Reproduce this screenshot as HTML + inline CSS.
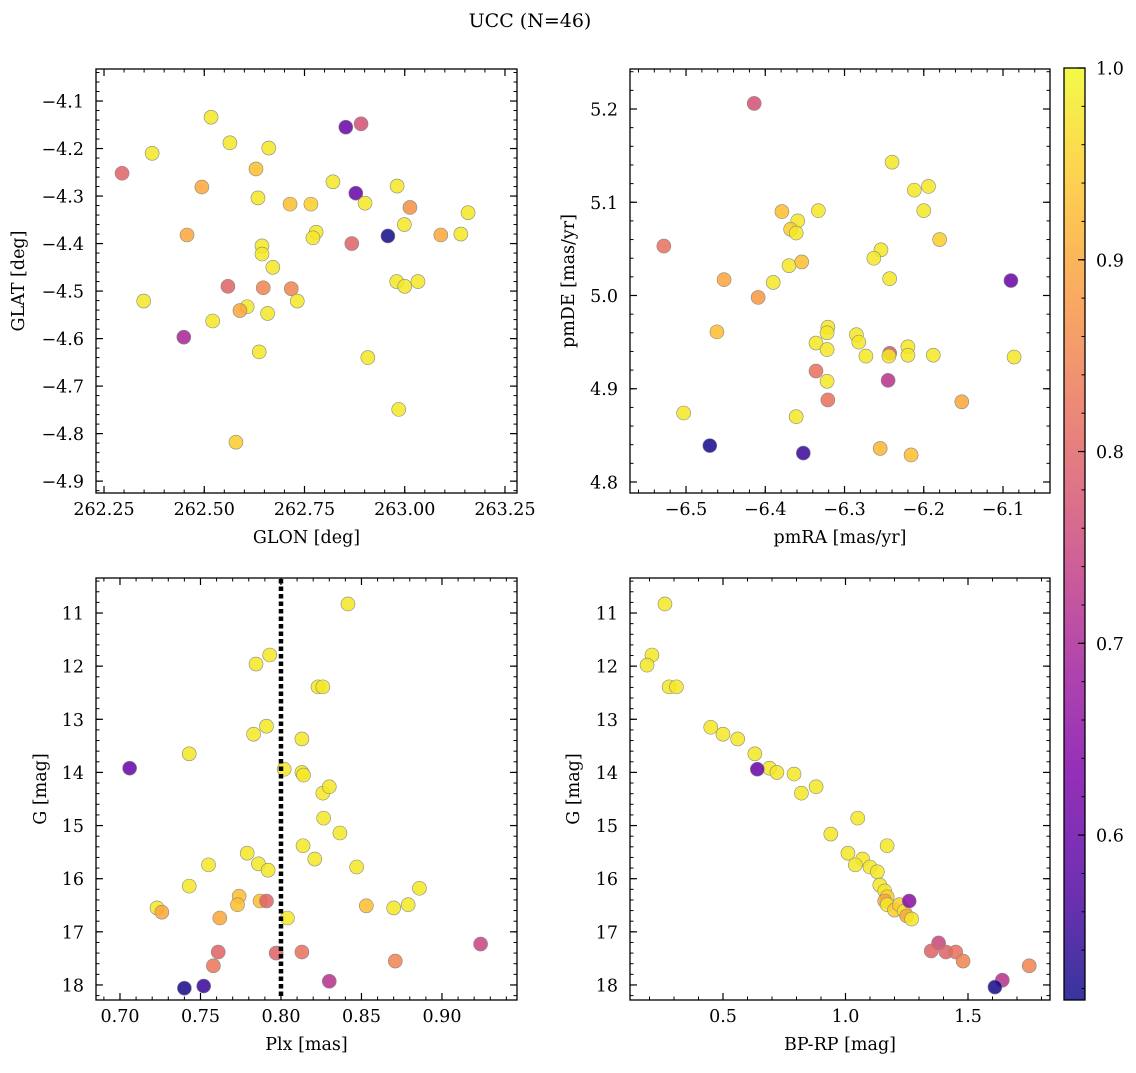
<!DOCTYPE html>
<html><head><meta charset="utf-8"><style>
body{margin:0;background:#fff;}
svg{font-family:"DejaVu Serif","Liberation Serif",serif;}
</style></head><body>
<svg id="fig" width="1136" height="1068" xmlns="http://www.w3.org/2000/svg">
<text x="530" y="27" text-anchor="middle" font-size="19">UCC (N=46)</text>
</svg>
<script>
// ---- data: panel 1 (GLON vs GLAT)
const glonTL=[262.517,262.37,262.295,262.564,262.661,262.629,262.494,262.634,262.853,262.891,262.821,262.878,262.714,262.766,262.779,262.771,262.901,262.981,262.999,263.013,262.958,263.09,263.14,263.158,262.457,262.644,262.644,262.671,262.868,262.98,263.0,263.033,262.559,262.647,262.717,262.349,262.607,262.589,262.658,262.732,262.521,262.449,262.637,262.908,262.985,262.579];
const glatTL=[-4.134,-4.21,-4.252,-4.188,-4.199,-4.243,-4.281,-4.304,-4.155,-4.148,-4.27,-4.294,-4.317,-4.317,-4.376,-4.388,-4.315,-4.279,-4.36,-4.324,-4.384,-4.382,-4.38,-4.335,-4.382,-4.405,-4.422,-4.45,-4.4,-4.48,-4.49,-4.48,-4.49,-4.493,-4.495,-4.521,-4.533,-4.541,-4.547,-4.521,-4.563,-4.597,-4.628,-4.64,-4.749,-4.818];
const probTL=[0.98,0.98,0.8,0.98,0.98,0.93,0.9,0.98,0.6,0.77,0.98,0.6,0.93,0.95,0.98,0.98,0.98,0.98,0.98,0.87,0.52,0.9,0.98,0.98,0.9,0.98,0.98,0.98,0.8,0.98,0.98,0.98,0.8,0.85,0.85,0.98,0.98,0.9,0.98,0.98,0.98,0.7,0.98,0.98,0.98,0.95];
// ---- panel 2 (pmRA vs pmDE)
const pmraTR=[-6.414,-6.240,-6.212,-6.194,-6.200,-6.379,-6.333,-6.359,-6.368,-6.361,-6.180,-6.528,-6.254,-6.263,-6.370,-6.354,-6.452,-6.390,-6.243,-6.090,-6.409,-6.321,-6.322,-6.285,-6.461,-6.282,-6.336,-6.220,-6.322,-6.243,-6.273,-6.244,-6.220,-6.188,-6.086,-6.336,-6.245,-6.322,-6.321,-6.152,-6.503,-6.361,-6.470,-6.255,-6.352,-6.216];
const pmdeTR=[5.206,5.143,5.113,5.117,5.091,5.090,5.091,5.080,5.071,5.067,5.060,5.053,5.049,5.040,5.032,5.036,5.017,5.014,5.018,5.016,4.998,4.966,4.960,4.958,4.961,4.950,4.949,4.945,4.942,4.938,4.935,4.935,4.936,4.936,4.934,4.919,4.909,4.908,4.888,4.886,4.874,4.870,4.839,4.836,4.831,4.829];
const probTR=[0.77,0.98,0.98,0.98,0.98,0.93,0.98,0.98,0.95,0.98,0.95,0.82,0.98,0.98,0.98,0.93,0.9,0.98,0.98,0.6,0.88,0.98,0.98,0.98,0.93,0.98,0.98,0.98,0.98,0.78,0.98,0.98,0.98,0.98,0.98,0.82,0.72,0.98,0.82,0.9,0.98,0.98,0.52,0.92,0.55,0.93];
// ---- panel 3 (Plx vs G)
const plxBL=[0.8416,0.7845,0.793,0.823,0.826,0.813,0.791,0.783,0.743,0.706,0.802,0.813,0.814,0.826,0.830,0.8265,0.8366,0.8137,0.821,0.779,0.755,0.786,0.792,0.847,0.743,0.774,0.773,0.886,0.787,0.791,0.853,0.879,0.870,0.723,0.726,0.762,0.804,0.761,0.797,0.813,0.924,0.758,0.871,0.830,0.740,0.752];
const gBL=[10.83,11.96,11.79,12.39,12.39,13.37,13.13,13.28,13.65,13.92,13.94,14.0,14.05,14.39,14.27,14.86,15.14,15.38,15.63,15.52,15.74,15.72,15.84,15.78,16.14,16.33,16.49,16.18,16.42,16.42,16.51,16.49,16.55,16.55,16.63,16.74,16.74,17.38,17.40,17.38,17.23,17.64,17.55,17.93,18.06,18.02];
const probBL=[0.98,0.98,0.98,0.98,0.98,0.98,0.98,0.98,0.98,0.6,0.98,0.98,0.98,0.98,0.98,0.98,0.98,0.98,0.98,0.98,0.98,0.98,0.98,0.98,0.98,0.93,0.93,0.98,0.93,0.8,0.93,0.98,0.98,0.98,0.9,0.9,0.98,0.8,0.8,0.82,0.75,0.83,0.85,0.72,0.52,0.55];
// ---- panel 4 (BP-RP vs G)
const bprpBR=[0.263,0.210,0.19,0.28,0.31,0.45,0.50,0.56,0.63,0.69,0.64,0.72,0.79,0.88,0.82,1.05,0.94,1.17,1.01,1.07,1.04,1.10,1.13,1.14,1.16,1.17,1.16,1.17,1.20,1.22,1.24,1.26,1.25,1.27,1.38,1.35,1.41,1.45,1.48,1.75,1.64,1.61];
const gBR=[10.83,11.79,11.98,12.39,12.39,13.15,13.28,13.37,13.65,13.92,13.94,14.0,14.03,14.27,14.39,14.86,15.16,15.38,15.52,15.63,15.74,15.78,15.87,16.12,16.23,16.34,16.42,16.49,16.59,16.49,16.61,16.42,16.70,16.76,17.21,17.36,17.38,17.38,17.55,17.64,17.91,18.04];
const probBR=[0.98,0.98,0.98,0.98,0.98,0.98,0.98,0.98,0.98,0.98,0.6,0.98,0.98,0.98,0.98,0.98,0.98,0.98,0.98,0.98,0.98,0.98,0.98,0.98,0.98,0.95,0.9,0.98,0.95,0.95,0.98,0.65,0.9,0.98,0.75,0.8,0.8,0.82,0.85,0.85,0.72,0.52];
// tick labels
const ticksTLx=[262.25,262.5,262.75,263.0,263.25];
const ticksTLy=[-4.1,-4.2,-4.3,-4.4,-4.5,-4.6,-4.7,-4.8,-4.9];
const ticksTRx=[-6.5,-6.4,-6.3,-6.2,-6.1];
const ticksTRy=[4.8,4.9,5.0,5.1,5.2];
const ticksBLx=[0.70,0.75,0.80,0.85,0.90];
const ticksGy=[11,12,13,14,15,16,17,18];
const ticksBRx=[0.5,1.0,1.5];
const ticksCbar=[0.6,0.7,0.8,0.9,1.0];
const plxLine=0.80;
const vmin=0.514, vmax=1.0;

const NS="http://www.w3.org/2000/svg";
const fig=document.getElementById('fig');
function mk(tag,attrs,parent){const e=document.createElementNS(NS,tag);for(const k in attrs)e.setAttribute(k,attrs[k]);(parent||fig).appendChild(e);return e;}
const stops=[[0,[13,8,135]],[0.125,[84,2,163]],[0.25,[126,3,168]],[0.375,[166,32,152]],[0.5,[204,71,120]],[0.625,[230,108,92]],[0.75,[248,149,64]],[0.875,[254,196,40]],[1,[240,249,33]]];
function plasma(t){t=Math.max(0,Math.min(1,t));for(let i=1;i<stops.length;i++){if(t<=stops[i][0]){const a=stops[i-1],b=stops[i];const f=(t-a[0])/(b[0]-a[0]);const c=a[1].map((v,j)=>Math.round(v+(b[1][j]-v)*f));return `rgb(${c.join(',')})`;}}return 'rgb(240,249,33)';}
function fmt(v,d){return (v<0?'\u2212':'')+Math.abs(v).toFixed(d);}
const FS=17.5;

function panel(name,box,xr,yr,xt,yt,xminor,yminor,xd,yd,xlab,ylab,ylabX,xs,ys,ps){
  const [L,T,R,B]=box;
  const sx=v=>L+(v-xr[0])/(xr[1]-xr[0])*(R-L);
  const sy=v=>T+(v-yr[0])/(yr[1]-yr[0])*(B-T);
  const g=mk('g',{});
  
  
  const lo=Math.min(xr[0],xr[1]),hi=Math.max(xr[0],xr[1]);
  for(let v=Math.ceil(lo/xminor-1e-6)*xminor;v<=hi+1e-9;v+=xminor){const x=sx(v);
    mk('line',{x1:x,x2:x,y1:B,y2:B-3.5,stroke:'#000','stroke-width':1},g);mk('line',{x1:x,x2:x,y1:T,y2:T+3.5,stroke:'#000','stroke-width':1},g);}
  const ylo=Math.min(yr[0],yr[1]),yhi=Math.max(yr[0],yr[1]);
  for(let v=Math.ceil(ylo/yminor-1e-6)*yminor;v<=yhi+1e-9;v+=yminor){const y=sy(v);
    mk('line',{x1:L,x2:L+3.5,y1:y,y2:y,stroke:'#000','stroke-width':1},g);mk('line',{x1:R,x2:R-3.5,y1:y,y2:y,stroke:'#000','stroke-width':1},g);}
  xt.forEach(v=>{const x=sx(v);
    mk('line',{x1:x,x2:x,y1:B,y2:B-7,stroke:'#000','stroke-width':1.2},g);mk('line',{x1:x,x2:x,y1:T,y2:T+7,stroke:'#000','stroke-width':1.2},g);
    const t=mk('text',{x:x,y:B+22,'text-anchor':'middle','font-size':FS},g);t.textContent=fmt(v,xd);
    
    });
  yt.forEach(v=>{const y=sy(v);
    mk('line',{x1:L,x2:L+7,y1:y,y2:y,stroke:'#000','stroke-width':1.2},g);mk('line',{x1:R,x2:R-7,y1:y,y2:y,stroke:'#000','stroke-width':1.2},g);
    const t=mk('text',{x:L-12,y:y+6.5,'text-anchor':'end','font-size':FS},g);t.textContent=fmt(v,yd);
    
    });
  const xl=mk('text',{x:(L+R)/2,y:B+50,'text-anchor':'middle','font-size':FS},g);xl.textContent=xlab;
  
  
  const yl=mk('text',{x:0,y:0,'text-anchor':'middle','font-size':FS,transform:`translate(${ylabX},${(T+B)/2}) rotate(-90)`},g);yl.textContent=ylab;
  
  
  const pts=mk('g',{},g);
  xs.forEach((v,i)=>{const c=mk('circle',{cx:sx(v),cy:sy(ys[i]),r:7,fill:plasma((ps[i]-vmin)/(vmax-vmin)),'fill-opacity':0.85,stroke:'#888','stroke-width':0.6},pts);
    
    });
  const fr=mk('rect',{x:L,y:T,width:R-L,height:B-T,fill:'none',stroke:'#000','stroke-width':1.3},g);
  
  
  return {sx,sy,g};
}
panel('glon-glat',[96,69,517,493],[262.23,263.28],[-4.0326,-4.925],ticksTLx,ticksTLy,0.05,0.02,2,1,'GLON [deg]','GLAT [deg]',24,glonTL,glatTL,probTL);
panel('pm',[630,69,1050,493],[-6.5707,-6.0407],[5.2429,4.7882],ticksTRx,ticksTRy,0.02,0.02,1,1,'pmRA [mas/yr]','pmDE [mas/yr]',574,pmraTR,pmdeTR,probTR);
const bl=panel('plx-g',[96,578,517,1000],[0.6851,0.9466],[10.341,18.283],ticksBLx,ticksGy,0.01,0.2,2,0,'Plx [mas]','G [mag]',46,plxBL,gBL,probBL);
const dl=mk('line',{x1:bl.sx(plxLine),x2:bl.sx(plxLine),y1:579,y2:999,stroke:'#000','stroke-width':4.5,'stroke-dasharray':'4.5,3'},bl.g);


panel('cmd',[630,578,1050,1000],[0.1204,1.8347],[10.341,18.283],ticksBRx,ticksGy,0.1,0.2,1,0,'BP-RP [mag]','G [mag]',579,bprpBR,gBR,probBR);

// colorbar
const cb=mk('g',{});


const defs=mk('defs',{},cb);
const lg=mk('linearGradient',{id:'cg',x1:0,y1:1,x2:0,y2:0},defs);
for(let i=0;i<=20;i++){mk('stop',{offset:i/20,'stop-color':plasma(i/20),'stop-opacity':0.82},lg);}
const cL=1064,cR=1085,cT=68,cB=1000;
mk('rect',{x:cL,y:cT,width:cR-cL,height:cB-cT,fill:'url(#cg)'},cb);
const cy=v=>cB-(v-vmin)/(vmax-vmin)*(cB-cT);
for(let v=0.52;v<=1.0001;v+=0.02){mk('line',{x1:cR,x2:cR-3.5,y1:cy(v),y2:cy(v),stroke:'#000'},cb);}
ticksCbar.forEach(v=>{mk('line',{x1:cR,x2:cR-7,y1:cy(v),y2:cy(v),stroke:'#000','stroke-width':1.2},cb);
  const t=mk('text',{x:cR+11,y:cy(v)+6.5,'font-size':FS},cb);t.textContent=v.toFixed(1);
  
  });
mk('rect',{x:cL,y:cT,width:cR-cL,height:cB-cT,fill:'none',stroke:'#000','stroke-width':1.3},cb);
</script>
</body></html>
